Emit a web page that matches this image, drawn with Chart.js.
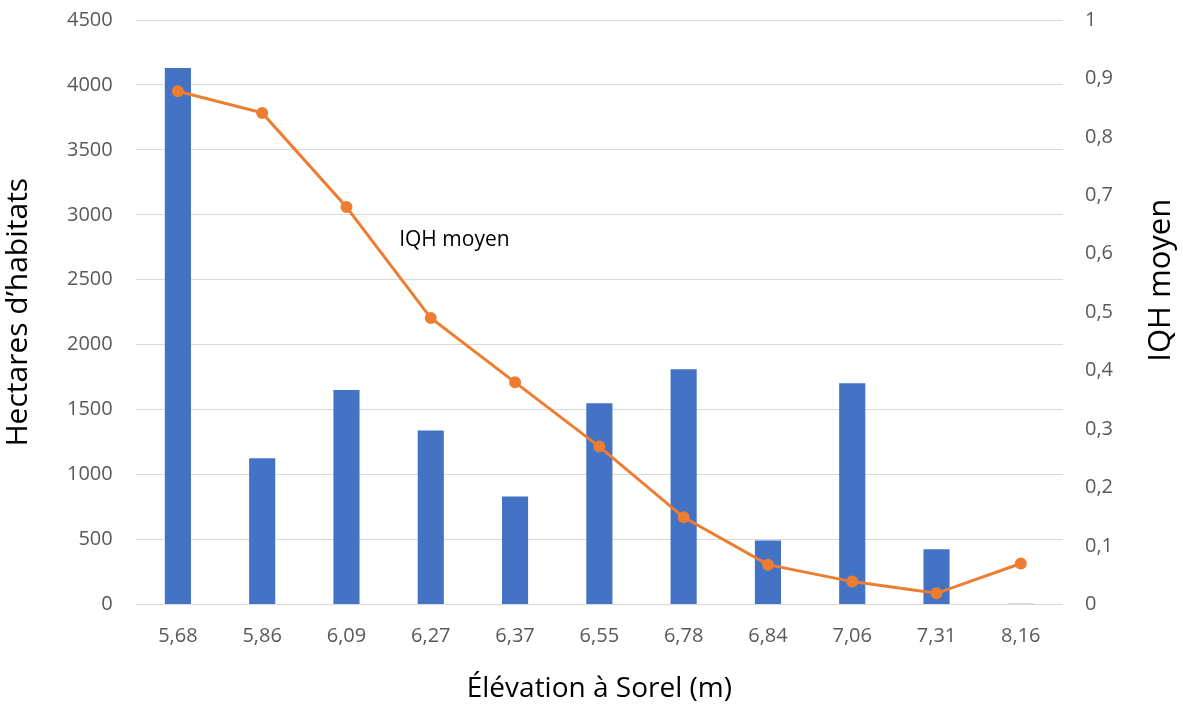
<!DOCTYPE html>
<html>
<head>
<meta charset="utf-8">
<script src="https://cdn.jsdelivr.net/npm/chart.js@4"></script>
<style>
  html, body { margin: 0; padding: 0; background: #fff; }
  #wrap { width: 1183px; height: 708px; }
</style>
</head>
<body>
<div id="wrap"><canvas id="habitats"></canvas></div>
<script>
// elevation at Sorel (m)
const elevations = ["5,68", "5,86", "6,09", "6,27", "6,37", "6,55", "6,78", "6,84", "7,06", "7,31", "8,16"];
// hectares of habitat per elevation
const hectares = [4130, 1125, 1650, 1340, 830, 1548, 1810, 492, 1702, 424, 5];
// mean IQH
const iqh = [0.878, 0.841, 0.68, 0.49, 0.38, 0.27, 0.149, 0.068, 0.039, 0.019, 0.07];

const tickFont = { family: "'Open Sans', sans-serif", size: 20 };

// tick padding also pushes the plot down; keep only half a label of room
const tightFit = s => { s.paddingTop = 12; s.paddingBottom = 12; };

// "IQH moyen" label next to the line + the right axis title (read bottom-to-top)
const extraText = {
    id: "extraText",
    afterDraw(chart) {
        const ctx = chart.ctx;
        const x = chart.scales.x.getPixelForValue(3.28);
        const y = chart.scales.y1.getPixelForValue(0.623);
        ctx.save();
        ctx.fillStyle = "#000";
        ctx.textAlign = "center";
        ctx.textBaseline = "middle";
        ctx.font = "21px 'Open Sans', sans-serif";
        ctx.fillText("IQH moyen", x, y);

        const a = chart.chartArea;
        ctx.translate(1161, (a.top + a.bottom) / 2 - 32);
        ctx.rotate(-Math.PI / 2);
        ctx.font = "31px 'Open Sans', sans-serif";
        ctx.fillText("IQH moyen", 0, 0);
        ctx.restore();
    }
};

new Chart(document.getElementById("habitats"), {
    data: {
        labels: elevations,
        datasets: [
            {
                type: "line",
                label: "IQH moyen",
                data: iqh,
                yAxisID: "y1",
                borderColor: "#ED7D31",
                backgroundColor: "#ED7D31",
                borderWidth: 3,
                pointRadius: 4.5,
                pointHoverRadius: 4.5,
                tension: 0
            },
            {
                type: "bar",
                label: "Hectares d’habitats",
                data: hectares,
                yAxisID: "y",
                backgroundColor: "#4472C4",
                barPercentage: 0.31,
                categoryPercentage: 1
            }
        ]
    },
    options: {
        responsive: true,
        maintainAspectRatio: false,
        animation: false,
        layout: { padding: { left: 0, right: 56, top: 20, bottom: 2 } },
        plugins: {
            legend: { display: false },
            tooltip: { enabled: false }
        },
        scales: {
            x: {
                grid: { display: false },
                border: { display: false },
                ticks: { color: "#595959", font: tickFont, padding: 12, maxRotation: 0 },
                title: {
                    display: true, text: "Élévation à Sorel (m)", color: "#000",
                    font: { family: "'Open Sans', sans-serif", size: 28 }, padding: { top: 12, bottom: 0 }
                }
            },
            y: {
                position: "left",
                min: 0,
                max: 4500,
                afterFit: tightFit,
                ticks: { stepSize: 500, color: "#595959", font: tickFont, padding: 23, callback: v => String(v) },
                grid: { color: "#D9D9D9", drawTicks: false },
                border: { display: false },
                title: {
                    display: true, text: "Hectares d’habitats", color: "#000",
                    font: { family: "'Open Sans', sans-serif", size: 30 }, padding: { top: 0, bottom: 8 }
                }
            },
            y1: {
                position: "right",
                min: 0,
                max: 1,
                afterFit: tightFit,
                ticks: {
                    stepSize: 0.1,
                    color: "#595959",
                    font: tickFont,
                    padding: 14,
                    callback: v => String(Math.round(v * 10) / 10).replace(".", ",")
                },
                grid: { display: false },
                border: { display: false }
            }
        }
    },
    plugins: [extraText]
});
</script>
</body>
</html>
